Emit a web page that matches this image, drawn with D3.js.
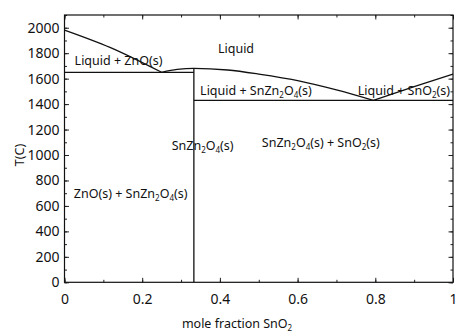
<!DOCTYPE html>
<html>
<head>
<meta charset="utf-8">
<script src="https://cdn.jsdelivr.net/npm/d3@7"></script>
<style>
  body { margin: 0; background: #fff; }
  text { font-family: "Noto Sans", sans-serif; fill: #111; }
  .tick-label { font-size: 14px; }
  .ann { font-size: 12.5px; }
</style>
</head>
<body>
<div id="chart"></div>
<script>
// phase boundaries, [mole fraction SnO2, T in C]
var liquidusZnO = [[0, 1982], [0.117, 1846], [0.25, 1650]];
var liquidusSpinel = [[0.25, 1650], [0.29, 1672], [0.333, 1681], [0.42, 1668], [0.5, 1636], [0.606, 1581], [0.7, 1512], [0.795, 1430]];
var liquidusSnO2 = [[0.795, 1430], [0.9, 1537], [1, 1636]];
var eutecticLeft = [[0, 1650], [0.333, 1650]];
var eutecticRight = [[0.333, 1430], [1, 1430]];
var spinelLine = [[0.333, 0], [0.333, 1681]];

var xTicks = [0, 0.2, 0.4, 0.6, 0.8, 1];
var yTicks = [0, 200, 400, 600, 800, 1000, 1200, 1400, 1600, 1800, 2000];

// region labels: [x, T, text parts] (parts: [string, isSubscript])
var labels = [
  [0.395, 1805, [["Liquid", 0]]],
  [0.026, 1710, [["Liquid + ZnO(s)", 0]]],
  [0.349, 1475, [["Liquid + SnZn", 0], ["2", 1], ["O", 0], ["4", 1], ["(s)", 0]]],
  [0.755, 1470, [["Liquid + SnO", 0], ["2", 1], ["(s)", 0]]],
  [0.276, 1040, [["SnZn", 0], ["2", 1], ["O", 0], ["4", 1], ["(s)", 0]]],
  [0.508, 1065, [["SnZn", 0], ["2", 1], ["O", 0], ["4", 1], ["(s) + SnO", 0], ["2", 1], ["(s)", 0]]],
  [0.024, 665, [["ZnO(s) + SnZn", 0], ["2", 1], ["O", 0], ["4", 1], ["(s)", 0]]]
];

var width = 457, height = 335;
var svg = d3.select("#chart").append("svg").attr("width", width).attr("height", height);

var x = d3.scaleLinear().domain([0, 1]).range([64.5, 453]);
var y = d3.scaleLinear().domain([0, 2100]).range([282.3, 15]);

var line = d3.line().curve(d3.curveMonotoneX)
  .x(function(d) { return x(d[0]); })
  .y(function(d) { return y(d[1]); });
var straight = d3.line()
  .x(function(d) { return x(d[0]); })
  .y(function(d) { return y(d[1]); });

// ticks inward on all four sides
var xMinor = d3.range(0, 1.0001, 0.1);
var yMinor = d3.range(0, 2101, 100);

function noDomain(g) { g.select(".domain").remove(); }
function tickText(g) {
  g.select(".domain").remove();
  g.selectAll("text").attr("class", "tick-label").attr("font-size", null).attr("font-family", null);
}

svg.append("g").attr("transform", "translate(0," + y(0) + ")")
  .call(d3.axisBottom(x).tickValues(xMinor).tickSize(-2.5).tickFormat("")).call(noDomain);
svg.append("g").attr("transform", "translate(0," + y(0) + ")")
  .call(d3.axisBottom(x).tickValues(xTicks).tickSize(-4.5).tickPadding(12)
    .tickFormat(function(d) { return d === 0 || d === 1 ? d : d3.format(".1f")(d); }))
  .call(tickText);

svg.append("g").attr("transform", "translate(0," + y(2100) + ")")
  .call(d3.axisTop(x).tickValues(xMinor).tickSize(-2.5).tickFormat("")).call(noDomain);
svg.append("g").attr("transform", "translate(0," + y(2100) + ")")
  .call(d3.axisTop(x).tickValues(xTicks).tickSize(-4.5).tickFormat("")).call(noDomain);

svg.append("g").attr("transform", "translate(" + x(0) + ",0)")
  .call(d3.axisLeft(y).tickValues(yMinor).tickSize(-2.5).tickFormat("")).call(noDomain);
svg.append("g").attr("transform", "translate(" + x(0) + ",0)")
  .call(d3.axisLeft(y).tickValues(yTicks).tickSize(-4.5).tickPadding(5).tickFormat(d3.format("d")))
  .call(tickText);

svg.append("g").attr("transform", "translate(" + x(1) + ",0)")
  .call(d3.axisRight(y).tickValues(yMinor).tickSize(-2.5).tickFormat("")).call(noDomain);
svg.append("g").attr("transform", "translate(" + x(1) + ",0)")
  .call(d3.axisRight(y).tickValues(yTicks).tickSize(-4.5).tickFormat("")).call(noDomain);

svg.selectAll(".tick line").attr("stroke", "#222");

// frame
svg.append("rect")
  .attr("x", x(0)).attr("y", y(2100))
  .attr("width", x(1) - x(0)).attr("height", y(0) - y(2100))
  .attr("fill", "none").attr("stroke", "#111").attr("stroke-width", 1.2);

// phase boundaries
[liquidusZnO, liquidusSpinel, liquidusSnO2].forEach(function(d) {
  svg.append("path").datum(d).attr("d", line)
    .attr("fill", "none").attr("stroke", "#111").attr("stroke-width", 1.3);
});
[eutecticLeft, eutecticRight, spinelLine].forEach(function(d) {
  svg.append("path").datum(d).attr("d", straight)
    .attr("fill", "none").attr("stroke", "#111").attr("stroke-width", 1.3);
});

// text with subscripts
function richText(t, parts) {
  var low = false;
  parts.forEach(function(p) {
    var s = t.append("tspan").text(p[0]);
    if (p[1]) {
      s.attr("font-size", "8px").attr("dy", low ? 0 : 3);
      low = true;
    } else {
      s.attr("dy", low ? -3 : 0);
      low = false;
    }
  });
}

labels.forEach(function(l) {
  var t = svg.append("text").attr("class", "ann")
    .attr("x", x(l[0])).attr("y", y(l[1]));
  richText(t, l[2]);
});

// axis titles
var xl = svg.append("text").attr("class", "ann").attr("text-anchor", "middle")
  .attr("x", 237).attr("y", 328);
richText(xl, [["mole fraction SnO", 0], ["2", 1]]);

svg.append("text").attr("class", "ann").attr("text-anchor", "middle")
  .attr("transform", "translate(24,155) rotate(-90)")
  .text("T(C)");
</script>
</body>
</html>
